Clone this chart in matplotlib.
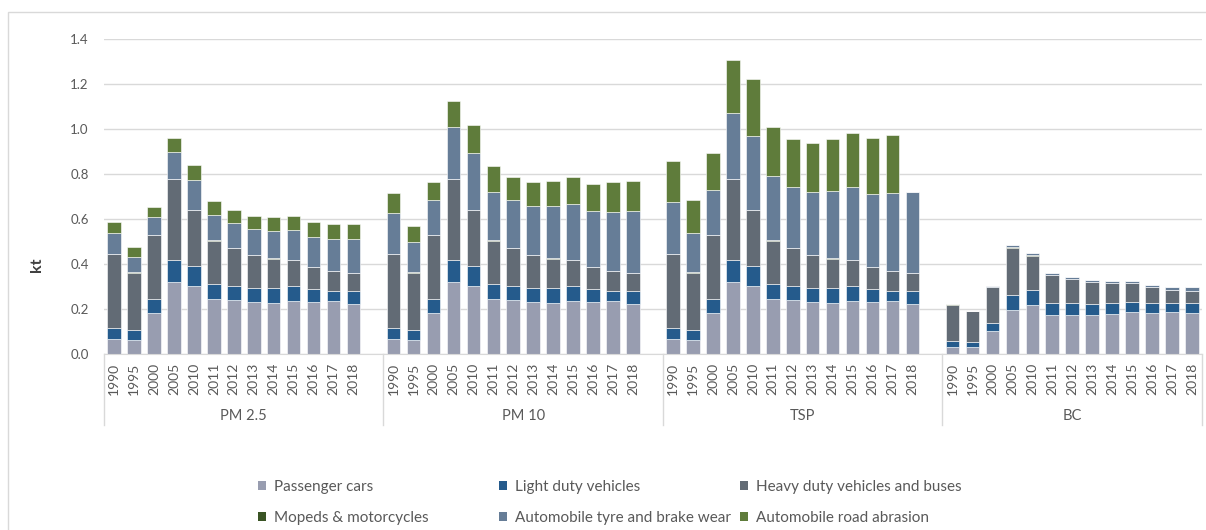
import numpy as np
import matplotlib
matplotlib.use("Agg")
import matplotlib.pyplot as plt
import matplotlib.transforms as mtransforms
from matplotlib.patches import Patch, Rectangle

plt.rcParams['font.family'] = ['Lato', 'DejaVu Sans']

years = ["1990", "1995", "2000", "2005", "2010", "2011", "2012",
         "2013", "2014", "2015", "2016", "2017", "2018"]
pollutants = ["PM 2.5", "PM 10", "TSP", "BC"]
sectors = ["Passenger cars", "Light duty vehicles", "Heavy duty vehicles and buses",
           "Mopeds & motorcycles", "Automobile tyre and brake wear", "Automobile road abrasion"]
colors = ["#989DB0", "#255B8C", "#626B75", "#3A5424", "#667D97", "#5F7C3B"]

# exhaust emissions (kt) - same for PM2.5, PM10 and TSP
pm_cars = [0.065, 0.061, 0.184, 0.318, 0.301, 0.243, 0.239, 0.233, 0.228, 0.235, 0.233, 0.235, 0.224]
pm_ldv = [0.052, 0.047, 0.059, 0.098, 0.090, 0.068, 0.065, 0.062, 0.067, 0.066, 0.057, 0.046, 0.057]
pm_hdv = [0.326, 0.252, 0.286, 0.362, 0.247, 0.193, 0.167, 0.145, 0.129, 0.115, 0.097, 0.086, 0.080]
pm_moped = [0.003, 0.003, 0.001, 0.001, 0.003, 0.001, 0.001, 0.001, 0.001, 0.001, 0.001, 0.003, 0.001]

# non-exhaust emissions (kt)
pm25_tyre = [0.092, 0.070, 0.080, 0.117, 0.132, 0.113, 0.110, 0.116, 0.122, 0.133, 0.132, 0.140, 0.148]
pm25_road = [0.050, 0.041, 0.043, 0.065, 0.068, 0.061, 0.058, 0.058, 0.060, 0.065, 0.065, 0.068, 0.068]
pm10_tyre = [0.179, 0.136, 0.156, 0.228, 0.251, 0.216, 0.211, 0.217, 0.233, 0.248, 0.248, 0.262, 0.274]
pm10_road = [0.089, 0.071, 0.080, 0.117, 0.126, 0.113, 0.105, 0.108, 0.111, 0.123, 0.121, 0.131, 0.133]
tsp_tyre = [0.230, 0.175, 0.199, 0.294, 0.328, 0.288, 0.272, 0.280, 0.301, 0.324, 0.325, 0.346, 0.357]
tsp_road = [0.183, 0.145, 0.163, 0.235, 0.252, 0.214, 0.210, 0.215, 0.228, 0.241, 0.245, 0.256, 0.0]

# black carbon (kt)
bc_cars = [0.030, 0.030, 0.102, 0.196, 0.218, 0.175, 0.175, 0.175, 0.179, 0.185, 0.181, 0.185, 0.181]
bc_ldv = [0.028, 0.023, 0.036, 0.068, 0.068, 0.050, 0.050, 0.046, 0.046, 0.047, 0.047, 0.043, 0.047]
bc_hdv = [0.158, 0.137, 0.158, 0.206, 0.151, 0.125, 0.107, 0.098, 0.089, 0.082, 0.068, 0.055, 0.053]
bc_moped = [0.005, 0.001, 0.001, 0.004, 0.001, 0.001, 0.001, 0.001, 0.001, 0.001, 0.001, 0.003, 0.001]
bc_tyre = [0.003, 0.001, 0.007, 0.012, 0.012, 0.008, 0.008, 0.008, 0.009, 0.009, 0.010, 0.010, 0.014]
bc_road = [0.0] * 13

data = {
    "PM 2.5": [pm_cars, pm_ldv, pm_hdv, pm_moped, pm25_tyre, pm25_road],
    "PM 10": [pm_cars, pm_ldv, pm_hdv, pm_moped, pm10_tyre, pm10_road],
    "TSP": [pm_cars, pm_ldv, pm_hdv, pm_moped, tsp_tyre, tsp_road],
    "BC": [bc_cars, bc_ldv, bc_hdv, bc_moped, bc_tyre, bc_road],
}

W, H = 1206, 530
fig = plt.figure(figsize=(W / 100, H / 100), dpi=100)
ax = fig.add_axes([104 / W, 176 / H, 1098 / W, 315 / H])

n = len(years)
slot = n + 1
grey = "#595959"

xticks, xlabels = [], []
for g, pol in enumerate(pollutants):
    x = np.arange(n) + g * slot
    bottom = np.zeros(n)
    for vals, col in zip(data[pol], colors):
        vals = np.array(vals)
        ax.bar(x, vals, bottom=bottom, width=0.68, color=col,
               edgecolor="white", linewidth=0.4)
        bottom += vals
    xticks += list(x)
    xlabels += years

ax.set_xlim(-0.5, slot * len(pollutants) - 1.5)
ax.set_ylim(0, 1.4)
ax.set_yticks(np.arange(0, 1.41, 0.2))
ax.set_yticklabels([f"{v:.1f}" for v in np.arange(0, 1.41, 0.2)])
ax.set_xticks(xticks)
ax.set_xticklabels(xlabels, rotation=90, va="top")
ax.tick_params(axis="x", length=0, pad=6.5, labelsize=10, colors=grey)
ax.tick_params(axis="y", length=0, pad=11, labelsize=9.5, colors=grey)
ax.yaxis.grid(True, color="#D9D9D9", linewidth=1)
ax.set_axisbelow(True)
for s in ["top", "right", "left"]:
    ax.spines[s].set_visible(False)
ax.spines["bottom"].set_color("#D9D9D9")

# multi-level category axis
trans = mtransforms.blended_transform_factory(ax.transData, ax.transAxes)
edges = [-0.5] + [g * slot + n - 0.5 + 1 for g in range(len(pollutants) - 1)] + [slot * len(pollutants) - 1.5]
for e in edges:
    ax.plot([e, e], [0, -0.225], transform=trans, color="#D9D9D9", linewidth=1, clip_on=False)
for g, pol in enumerate(pollutants):
    c = (edges[g] + edges[g + 1]) / 2
    ax.text(c, -0.197, pol, transform=trans, ha="center", va="center", fontsize=10.5, color=grey)

fig.text(37 / W, 1 - 265 / H, "kt", rotation=90, ha="center", va="center",
         fontsize=11.5, fontweight="bold", color="#404040")

# chart border
fig.patches.append(Rectangle((8 / W, -0.1), 1.2, 1.1 - 12 / H, transform=fig.transFigure,
                             facecolor="none", edgecolor="#D9D9D9", linewidth=1))

# legend, three columns of two rows
handles = [Patch(facecolor=c, edgecolor="none") for c in colors]
col_x = [258, 499, 740]
for k in range(3):
    idx = [k, k + 3]
    fig.legend([handles[i] for i in idx], [sectors[i] for i in idx],
               loc="upper left", bbox_to_anchor=(col_x[k] / W, 1 - 480 / H),
               frameon=False, fontsize=11, handlelength=0.55, handleheight=0.55,
               handletextpad=0.5, labelspacing=1.12, borderpad=0, borderaxespad=0,
               labelcolor=grey)

fig.savefig("out.png", dpi=100)
